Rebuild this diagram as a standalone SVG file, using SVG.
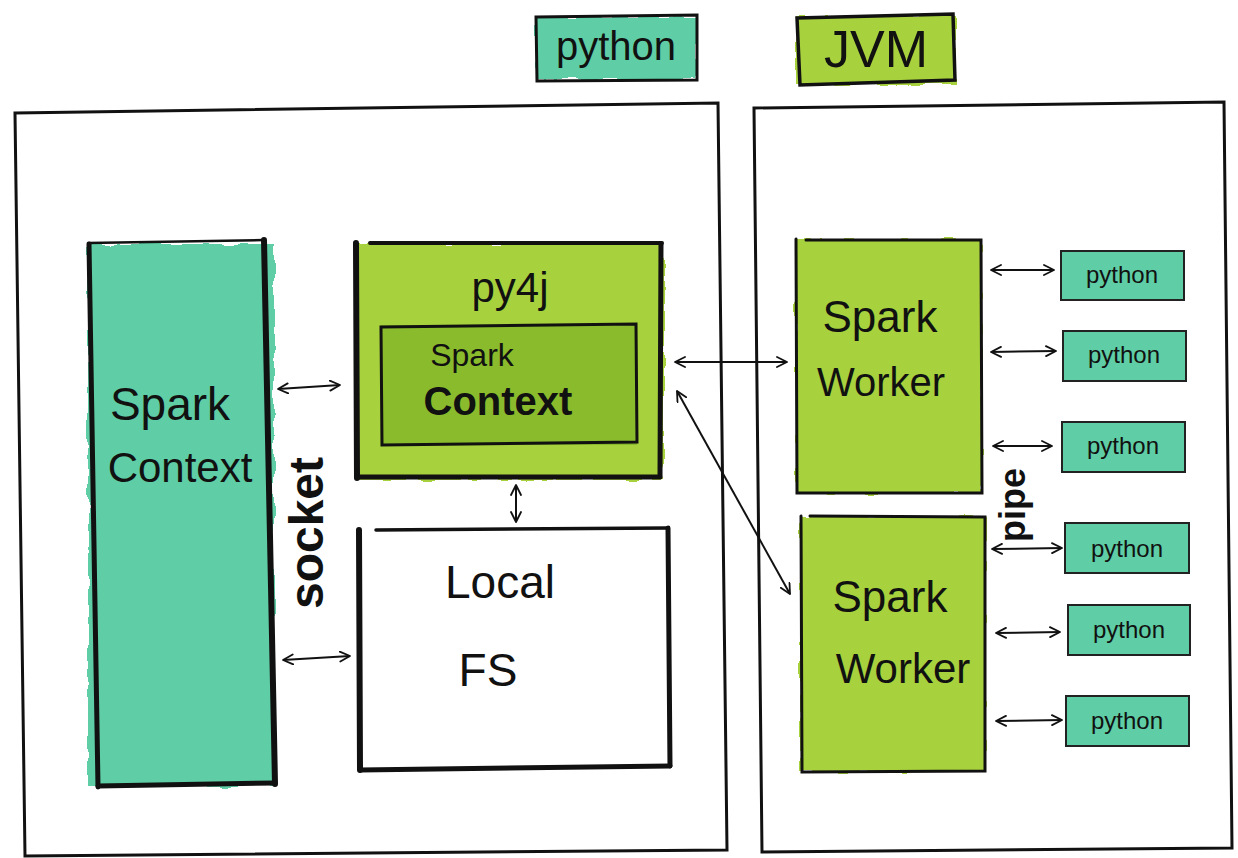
<svg xmlns="http://www.w3.org/2000/svg" width="1238" height="858" viewBox="0 0 1238 858">
<defs>
<style>
.hand{font-family:"Liberation Sans","DejaVu Sans",sans-serif;fill:#111;}
.frame{fill:none;stroke:#111;stroke-width:3;stroke-linejoin:miter;}
.teal{fill:#5fcda5;}
.green{fill:#a7d13c;}
.dgreen{fill:#8abb2c;}
.edge{stroke:#111;fill:none;stroke-linecap:round;}
.conn{stroke:#111;stroke-width:2;fill:none;marker-start:url(#ah);marker-end:url(#ah);}
.pybox{stroke:#222;stroke-width:2;}
.pytext{font-family:"Liberation Sans","DejaVu Sans",sans-serif;font-size:24px;fill:#111;text-anchor:middle;}
</style>
<marker id="ah" viewBox="0 0 12 12" refX="11" refY="6" markerWidth="12" markerHeight="12" markerUnits="userSpaceOnUse" orient="auto-start-reverse">
<path d="M1,1 L11,6 L1,11" fill="none" stroke="#111" stroke-width="1.8" stroke-linecap="round" stroke-linejoin="round"/>
</marker>
<filter id="rough" x="-5%" y="-5%" width="110%" height="110%">
<feTurbulence type="fractalNoise" baseFrequency="0.05" numOctaves="2" seed="3" result="t"/>
<feDisplacementMap in="SourceGraphic" in2="t" scale="8"/>
</filter>
</defs>

<g id="legend-python">
<rect x="536" y="17" width="160" height="62" class="teal" filter="url(#rough)"/>
<path class="edge" stroke-width="3" d="M536,17 L697,15 L697,80 L537,81 Z"/>
<text x="616" y="60" class="hand" font-size="40" text-anchor="middle">python</text>
</g>

<g id="legend-jvm">
<rect x="796" y="16" width="160" height="68" class="green" filter="url(#rough)"/>
<path class="edge" stroke-width="3.5" d="M797,18 L953,14 L955,80 L800,85 Z"/>
<text x="876" y="67" class="hand" font-size="52" text-anchor="middle">JVM</text>
</g>

<g id="python-frame">
<path class="frame" d="M15,113 L718,103 L727,850 L25,856 Z"/>
</g>

<g id="jvm-frame">
<path class="frame" d="M754,108 L1224,102 L1232,848 L762,852 Z"/>
</g>

<g id="spark-context-driver">
<rect x="88" y="244" width="186" height="542" class="teal" filter="url(#rough)"/>
<path class="edge" stroke-width="2.5" d="M88,243 L264,240"/>
<path class="edge" stroke-width="5" d="M89,244 L98,787"/>
<path class="edge" stroke-width="6" d="M264,240 L275,784"/>
<path class="edge" stroke-width="5" d="M98,786 L275,783"/>
<text x="170" y="420" class="hand" font-size="46" text-anchor="middle">Spark</text>
<text x="180" y="482" class="hand" font-size="42" text-anchor="middle">Context</text>
</g>

<g id="py4j">
<rect x="356" y="244" width="308" height="236" class="green" filter="url(#rough)"/>
<path class="edge" stroke-width="4" d="M370,243 L662,243"/>
<path class="edge" stroke-width="6" d="M356,243 L357,478"/>
<path class="edge" stroke-width="5" d="M661,244 L660,476"/>
<path class="edge" stroke-width="5" d="M357,477 L660,477"/>
<text x="510" y="302" class="hand" font-size="42" text-anchor="middle">py4j</text>
</g>

<g id="spark-context-jvm">
<rect x="381" y="325" width="256" height="120" class="dgreen"/>
<path class="edge" stroke-width="3" d="M381,327 L636,324 L637,442 L382,445 Z"/>
<text x="472" y="366" class="hand" font-size="32" text-anchor="middle">Spark</text>
<text x="498" y="415" class="hand" font-size="40" font-weight="bold" text-anchor="middle">Context</text>
</g>

<g id="local-fs">
<rect x="358" y="528" width="312" height="243" fill="#fff"/>
<path class="edge" stroke-width="3.5" d="M376,530 L668,528"/>
<path class="edge" stroke-width="6" d="M359,530 L360,770"/>
<path class="edge" stroke-width="5" d="M668,528 L670,766"/>
<path class="edge" stroke-width="5" d="M360,770 L670,766"/>
<text x="500" y="598" class="hand" font-size="46" text-anchor="middle">Local</text>
<text x="488" y="686" class="hand" font-size="46" text-anchor="middle">FS</text>
</g>

<g id="spark-worker-1">
<rect x="796" y="239" width="186" height="254" class="green" filter="url(#rough)"/>
<path class="edge" stroke-width="3" d="M796,239 L797,493 L982,493 L981,240 L806,240"/>
<text x="880" y="332" class="hand" font-size="44" text-anchor="middle">Spark</text>
<text x="881" y="396" class="hand" font-size="40" text-anchor="middle">Worker</text>
</g>

<g id="spark-worker-2">
<rect x="800" y="516" width="186" height="256" class="green" filter="url(#rough)"/>
<path class="edge" stroke-width="3" d="M801,516 L802,772 L985,771 L985,517 L810,516"/>
<text x="890" y="612" class="hand" font-size="44" text-anchor="middle">Spark</text>
<text x="903" y="683" class="hand" font-size="42" text-anchor="middle">Worker</text>
</g>

<g id="python-1"><rect x="1061" y="251" width="123" height="49" class="teal pybox"/><text x="1122" y="283" class="pytext">python</text></g>
<g id="python-2"><rect x="1063" y="331" width="123" height="50" class="teal pybox"/><text x="1124" y="363" class="pytext">python</text></g>
<g id="python-3"><rect x="1062" y="422" width="123" height="50" class="teal pybox"/><text x="1123" y="454" class="pytext">python</text></g>
<g id="python-4"><rect x="1065" y="523" width="124" height="50" class="teal pybox"/><text x="1127" y="557" class="pytext">python</text></g>
<g id="python-5"><rect x="1068" y="605" width="122" height="50" class="teal pybox"/><text x="1129" y="638" class="pytext">python</text></g>
<g id="python-6"><rect x="1066" y="696" width="123" height="50" class="teal pybox"/><text x="1127" y="729" class="pytext">python</text></g>

<g id="connectors">
<line class="conn" x1="278" y1="389" x2="340" y2="385"/>
<line class="conn" x1="283" y1="660" x2="350" y2="656"/>
<line class="conn" x1="516" y1="485" x2="516" y2="522"/>
<line class="conn" x1="675" y1="362" x2="787" y2="362"/>
<line class="conn" x1="677" y1="391" x2="790" y2="594"/>
<line class="conn" x1="991" y1="270" x2="1054" y2="270"/>
<line class="conn" x1="991" y1="352" x2="1056" y2="351" stroke-width="3"/>
<line class="conn" x1="993" y1="446" x2="1052" y2="446"/>
<line class="conn" x1="992" y1="549" x2="1062" y2="548" stroke-width="3"/>
<line class="conn" x1="996" y1="633" x2="1060" y2="632"/>
<line class="conn" x1="996" y1="721" x2="1062" y2="720"/>
</g>

<g id="labels">
<text transform="translate(323,533) rotate(-90)" class="hand" font-size="48" font-weight="bold" text-anchor="middle">socket</text>
<text transform="translate(1025,505) rotate(-90)" class="hand" font-size="36" font-weight="bold" text-anchor="middle">pipe</text>
</g>
</svg>
